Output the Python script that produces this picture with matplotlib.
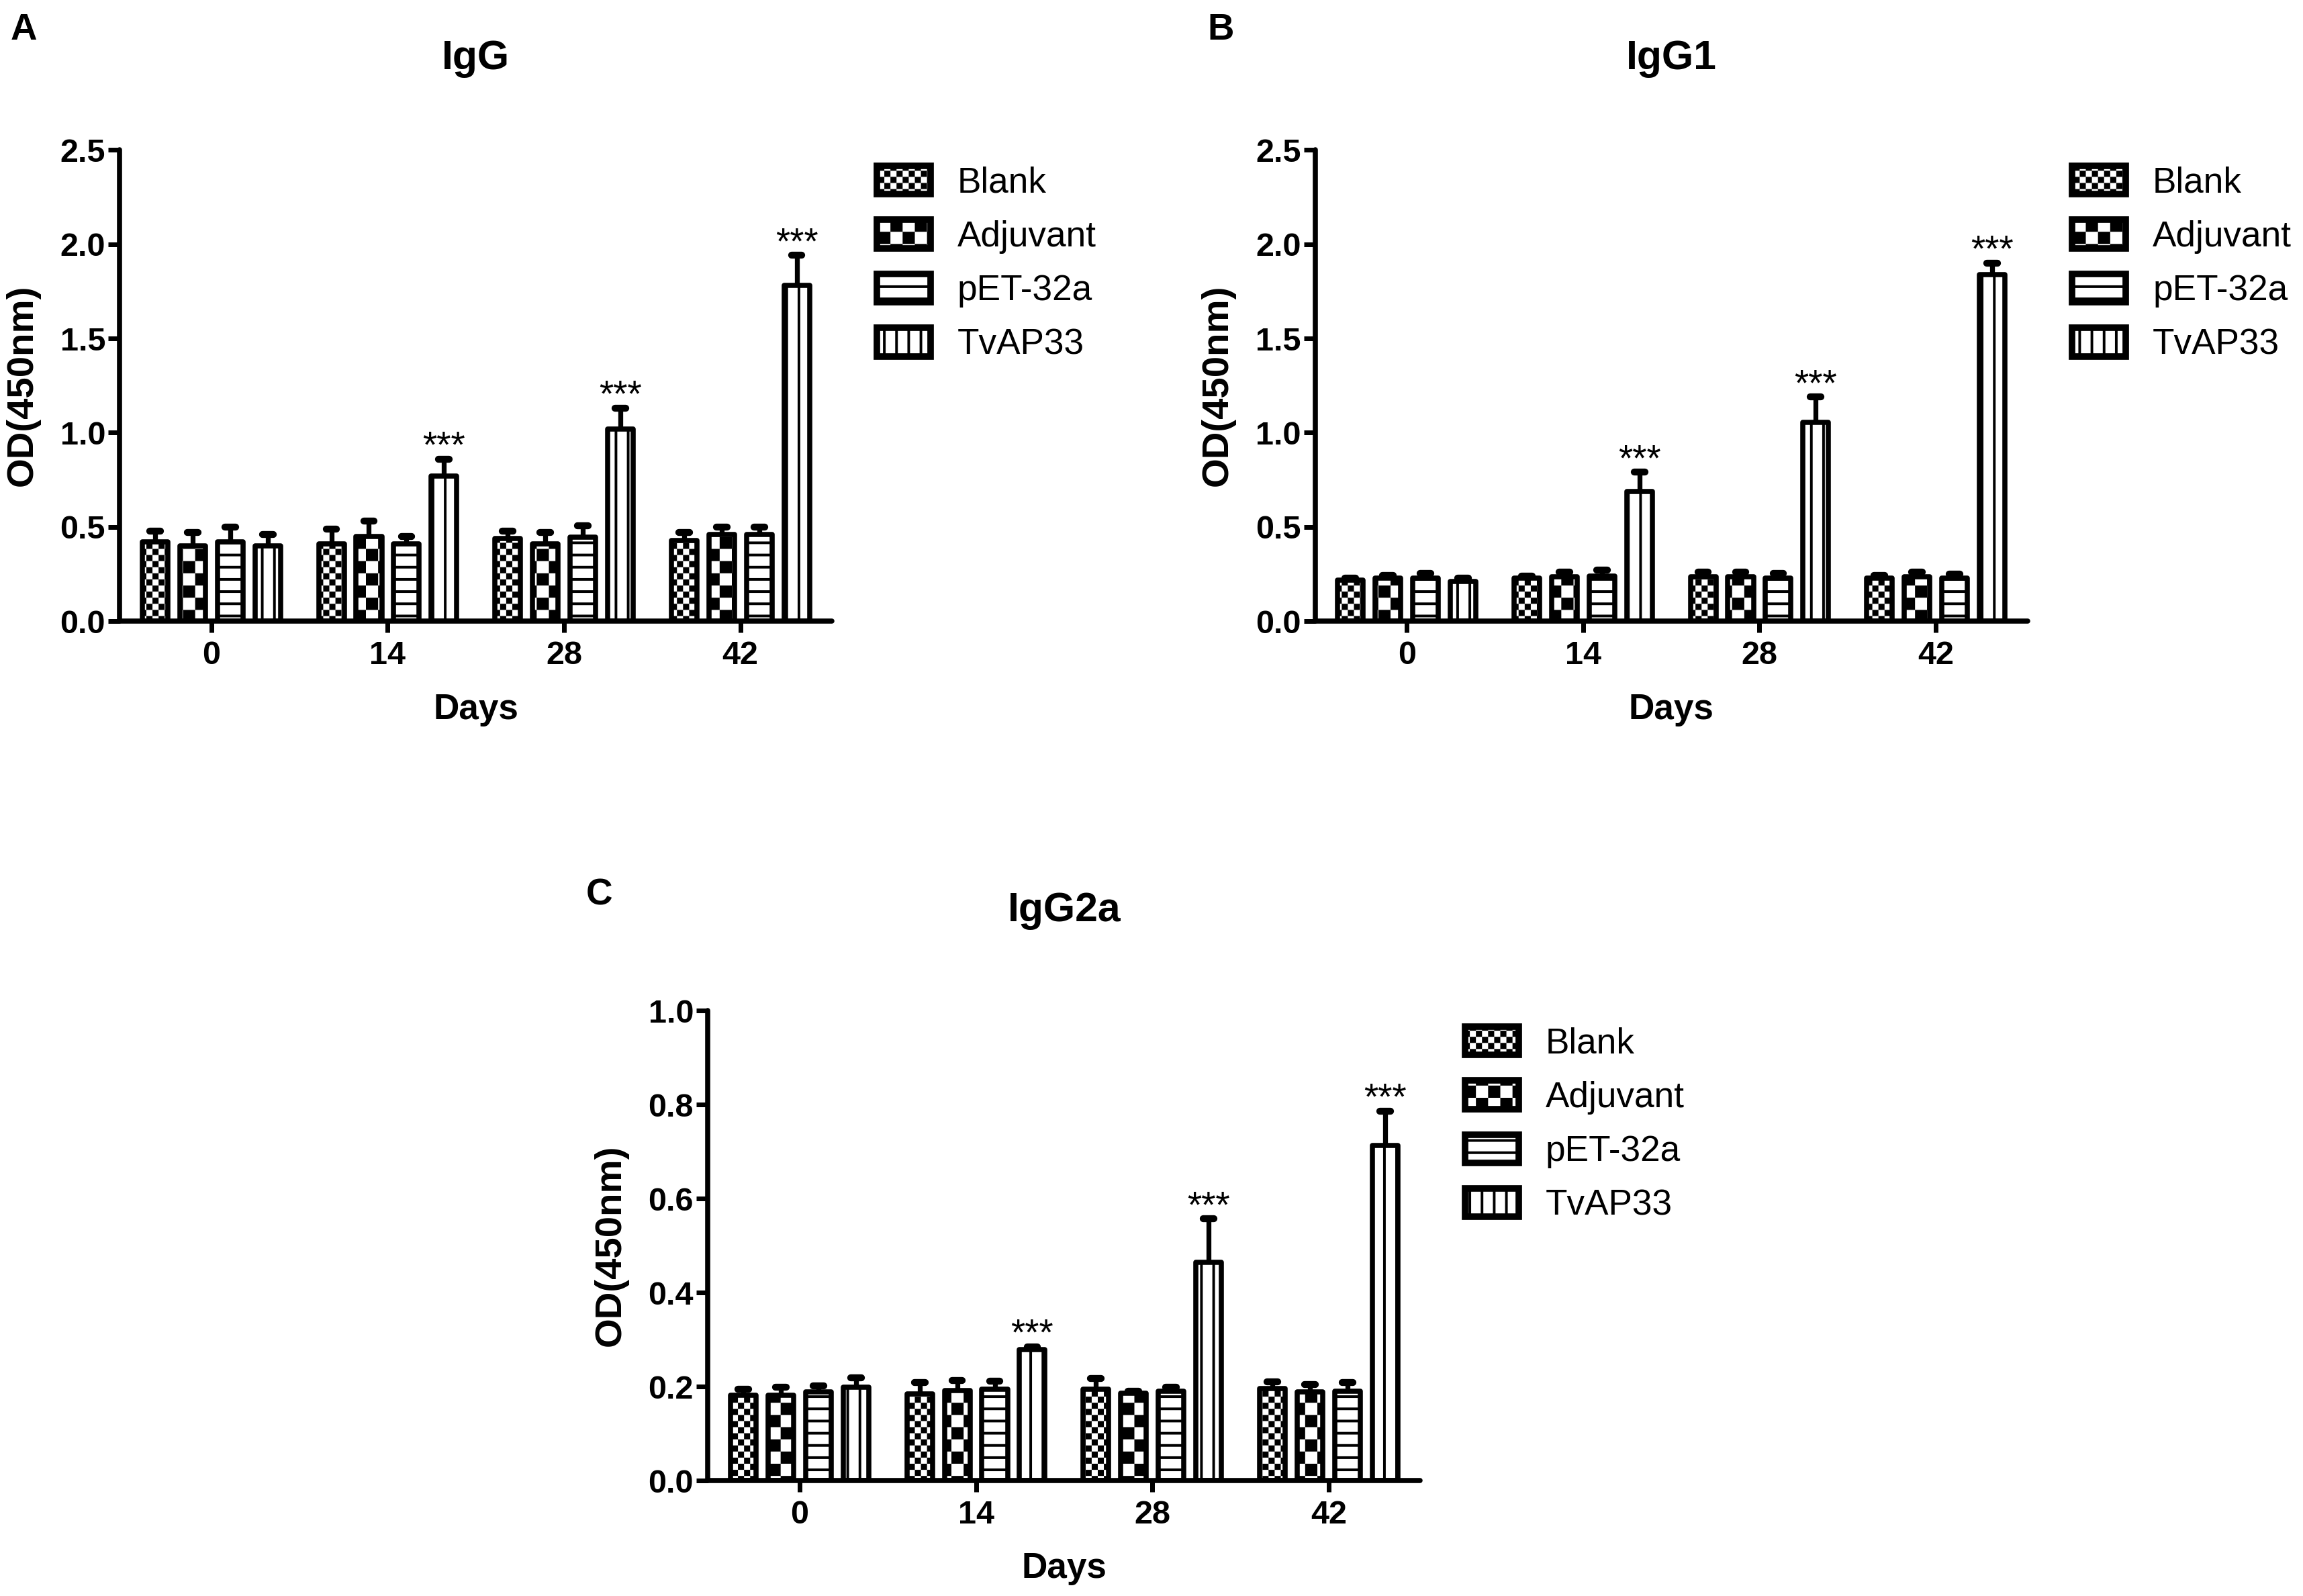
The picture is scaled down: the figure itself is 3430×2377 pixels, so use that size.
import numpy as np
import matplotlib
matplotlib.use('Agg')
import matplotlib.pyplot as plt
from matplotlib import hatch as mhatch
from matplotlib.path import Path
from matplotlib.patches import FancyBboxPatch, Rectangle
from matplotlib.legend_handler import HandlerPatch

plt.rcParams['font.family'] = ['Liberation Sans', 'DejaVu Sans']
plt.rcParams['hatch.linewidth'] = 1.3
plt.rcParams['hatch.color'] = 'black'

# ---- data (rows: Blank, Adjuvant, pET-32a, TvAP33; columns: days) ----
days = ['0', '14', '28', '42']
groups = ['Blank', 'Adjuvant', 'pET-32a', 'TvAP33']

igg_mean = [[0.42, 0.41, 0.44, 0.43],
            [0.40, 0.45, 0.41, 0.46],
            [0.42, 0.41, 0.445, 0.46],
            [0.40, 0.77, 1.02, 1.78]]
igg_err = [[0.06, 0.08, 0.04, 0.04],
           [0.07, 0.08, 0.06, 0.04],
           [0.08, 0.04, 0.06, 0.04],
           [0.06, 0.09, 0.11, 0.16]]

igg1_mean = [[0.22, 0.23, 0.235, 0.23],
             [0.23, 0.235, 0.235, 0.235],
             [0.23, 0.24, 0.23, 0.23],
             [0.21, 0.69, 1.055, 1.84]]
igg1_err = [[0.01, 0.01, 0.025, 0.015],
            [0.015, 0.025, 0.025, 0.025],
            [0.025, 0.03, 0.025, 0.02],
            [0.02, 0.10, 0.135, 0.06]]

igg2a_mean = [[0.181, 0.184, 0.194, 0.196],
              [0.181, 0.192, 0.186, 0.189],
              [0.189, 0.194, 0.190, 0.190],
              [0.199, 0.278, 0.464, 0.713]]
igg2a_err = [[0.013, 0.024, 0.023, 0.014],
             [0.018, 0.021, 0.004, 0.016],
             [0.012, 0.018, 0.009, 0.018],
             [0.020, 0.007, 0.093, 0.073]]

# which (group, day) bars carry "***"
stars = [(3, 1), (3, 2), (3, 3)]


# ---- checkerboard hatches ('.' fine, 'o' coarse) ----
class Checker(mhatch.HatchPatternBase):
    char = '.'
    per = 6
    filled = True

    def __init__(self, hatch, density):
        c = hatch.count(self.char)
        self.n = 2 * int(round(c * self.per / 2.0))
        self.num_vertices = (self.n * self.n // 2) * 5

    def set_vertices_and_codes(self, vertices, codes):
        n = self.n
        s = 1.0 / n
        m = min(0.3 * s, plt.rcParams['hatch.linewidth'] / 144.0)
        k = 0
        for i in range(n):
            for j in range(n):
                if (i + j) % 2:
                    continue
                x0, y0 = i * s + m, j * s + m
                x1, y1 = (i + 1) * s - m, (j + 1) * s - m
                vertices[k:k + 5] = [(x0, y0), (x1, y0), (x1, y1), (x0, y1), (x0, y0)]
                codes[k:k + 5] = [Path.MOVETO, Path.LINETO, Path.LINETO,
                                  Path.LINETO, Path.CLOSEPOLY]
                k += 5


class FineChecker(Checker):
    char = '.'
    per = 6


class CoarseChecker(Checker):
    char = 'o'
    per = 6


mhatch._hatch_types = [mhatch.HorizontalHatch, mhatch.VerticalHatch,
                       FineChecker, CoarseChecker]

hatches = ['....', 'oo', '--', '||']


def rounded_handle(legend, orig_handle, xdescent, ydescent, width, height, fontsize):
    return FancyBboxPatch((-xdescent, -ydescent), width, height,
                          boxstyle='round,pad=0,rounding_size=%f' % (height * 0.18))


DPI = 218.75
fig = plt.figure(figsize=(3430 / DPI, 2377 / DPI), dpi=DPI)

pitch = 0.213
bw = 0.145
x = np.arange(len(days))


def panel(rect, means, errs, ymax, ystep, title, letter, letter_xy, title_y):
    ax = fig.add_axes(rect)
    for g in range(len(groups)):
        xs = x + (g - 1.5) * pitch
        m = np.array(means[g])
        e = np.array(errs[g])
        ax.vlines(xs, m, m + e, color='black', linewidth=2.4, zorder=1)
        caps = ax.hlines(m + e, xs - 0.03, xs + 0.03, color='black', linewidth=3.4, zorder=1)
        caps.set_capstyle('round')
        ax.bar(xs, m, width=bw, facecolor='white', edgecolor='black',
               linewidth=2.5, hatch=hatches[g], joinstyle='round',
               label=groups[g], zorder=2)
    for g, d in stars:
        xs = x[d] + (g - 1.5) * pitch
        top = means[g][d] + errs[g][d]
        ax.annotate('***', (xs, top), xytext=(0, 1), textcoords='offset points',
                    ha='center', va='baseline', fontsize=18)

    ax.set_xlim(-0.52, 3.52)
    ax.set_ylim(0, ymax)
    ax.set_yticks(np.arange(0, ymax + 1e-9, ystep))
    ax.set_yticklabels(['%.1f' % v for v in np.arange(0, ymax + 1e-9, ystep)])
    ax.set_xticks(x)
    ax.set_xticklabels(days)
    for s in ['top', 'right']:
        ax.spines[s].set_visible(False)
    for s in ['left', 'bottom']:
        ax.spines[s].set_linewidth(2.5)
        ax.spines[s].set_capstyle('round')
    ax.tick_params(axis='both', direction='out', length=5.5, width=2.3,
                   labelsize=16)
    ax.tick_params(axis='y', pad=1.5)
    ax.tick_params(axis='x', pad=4)
    for lab in ax.get_xticklabels() + ax.get_yticklabels():
        lab.set_fontweight('bold')
    ax.set_ylabel('OD(450nm)', fontsize=18.5, fontweight='bold')
    ax.yaxis.set_label_coords(-0.112, 0.5)
    ax.set_xlabel('Days', fontsize=17.5, fontweight='bold')
    ax.xaxis.set_label_coords(0.5, -0.152)

    pos = ax.get_position()
    fig.text((pos.x0 + pos.x1) / 2, title_y, title, ha='center', va='baseline',
             fontsize=20, fontweight='bold')
    fig.text(letter_xy[0], letter_xy[1], letter, ha='left', va='baseline',
             fontsize=18, fontweight='bold')

    leg = ax.legend(loc='upper left', bbox_to_anchor=(1.063, 0.966), frameon=False,
                    fontsize=17.5, handlelength=1.5, handleheight=0.85,
                    handletextpad=0.75, labelspacing=0.56, borderpad=0,
                    borderaxespad=0,
                    handler_map={Rectangle: HandlerPatch(patch_func=rounded_handle)})
    for p in leg.get_patches():
        p.set_linewidth(3.2)
    return ax


W = 485 / 1568
H_top = 321 / 1086.6
panel([81.5 / 1568, 1 - 423 / 1086.6, W, H_top], igg_mean, igg_err, 2.5, 0.5,
      'IgG', 'A', (7 / 1568, 1 - 27 / 1086.6), 1 - 47 / 1086.6)
panel([895.4 / 1568, 1 - 423 / 1086.6, W, H_top], igg1_mean, igg1_err, 2.5, 0.5,
      'IgG1', 'B', (822 / 1568, 1 - 27 / 1086.6), 1 - 47 / 1086.6)
panel([482 / 1568, 1 - 1008 / 1086.6, W, 320 / 1086.6], igg2a_mean, igg2a_err, 1.0, 0.2,
      'IgG2a', 'C', (399 / 1568, 1 - 616 / 1086.6), 1 - 627 / 1086.6)

fig.savefig('out.png', dpi=DPI, facecolor='white')
